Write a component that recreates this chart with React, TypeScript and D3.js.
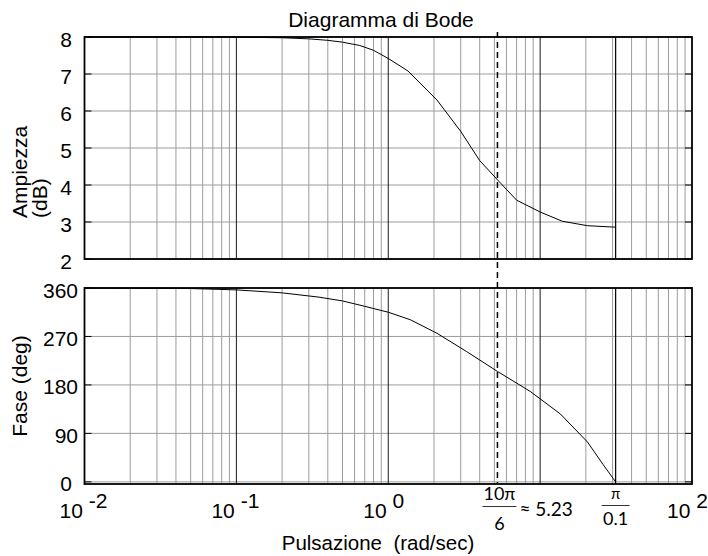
import React, { useEffect, useRef } from "react";
import * as d3 from "d3";

// magnitude curve (rad/sec, dB)
const magFreq = [0.01, 0.05, 0.1, 0.2, 0.3, 0.4, 0.5, 0.65, 0.8, 1, 1.35, 2.09, 3, 4, 5.24, 7, 10, 14, 20.5, 31.4];
const magDb = [8.0, 7.998, 7.995, 7.98, 7.95, 7.91, 7.86, 7.77, 7.64, 7.42, 7.08, 6.3, 5.45, 4.66, 4.14, 3.59, 3.27, 3.02, 2.9, 2.86];

// phase curve (rad/sec, deg)
const phaseFreq = [0.01, 0.05, 0.1, 0.2, 0.35, 0.5, 0.7, 1, 1.4, 2.09, 3.28, 5.24, 8.6, 13.6, 20.5, 26, 31.4];
const phaseDeg = [359.8, 359, 356.5, 351, 343, 336, 326, 315, 301, 276, 242, 205, 168, 126, 74, 32, 0];

const magTicks = [2, 3, 4, 5, 6, 7, 8];
const phaseTicks = [0, 90, 180, 270, 360];
const decadeExps = [-2, -1, 0, 1, 2];
const labelledExps = [-2, -1, 0, 2];

const markerDashed = (10 * Math.PI) / 6; // 5.23
const markerSolid = Math.PI / 0.1; // 31.4

const title = "Diagramma di Bode";
const magLabel = ["Ampiezza", "(dB)"];
const phaseLabel = "Fase (deg)";
const xLabel = "Pulsazione  (rad/sec)";

const FONT = "'Liberation Sans', Arial, sans-serif";
const MATH_FONT = "Lato, 'DejaVu Sans', sans-serif";

export default function App() {
  const svgRef = useRef<SVGSVGElement>(null);

  useEffect(() => {
    const svg = d3.select(svgRef.current);
    svg.selectAll("*").remove();

    const left = 84.5;
    const right = 692;

    const x = d3.scaleLog().domain([0.01, 100]).range([left, right]);
    const yMag = d3.scaleLinear().domain([2, 8]).range([259, 37]);
    const yPh = d3.scaleLinear().domain([-4, 360]).range([484, 288]);

    const minorFreqs: number[] = [];
    decadeExps.slice(0, -1).forEach((e) => {
      for (let k = 2; k <= 9; k++) minorFreqs.push(k * Math.pow(10, e));
    });
    const innerDecades = decadeExps.slice(1, -1).map((e) => Math.pow(10, e));

    const drawPanel = (
      y: d3.ScaleLinear<number, number>,
      ticks: number[],
      fx: number[],
      fy: number[],
      labelX: (v: number) => number
    ) => {
      const [y0, y1] = y.range();
      const g = svg.append("g");

      g.selectAll(".minor")
        .data(minorFreqs)
        .enter()
        .append("line")
        .attr("x1", (d) => x(d))
        .attr("x2", (d) => x(d))
        .attr("y1", y0)
        .attr("y2", y1)
        .attr("stroke", "#9c9c9c")
        .attr("stroke-width", 1);

      g.selectAll(".hgrid")
        .data(ticks)
        .enter()
        .append("line")
        .attr("x1", left)
        .attr("x2", right)
        .attr("y1", (d) => y(d))
        .attr("y2", (d) => y(d))
        .attr("stroke", "#9c9c9c")
        .attr("stroke-width", 1);

      g.selectAll(".decade")
        .data(innerDecades)
        .enter()
        .append("line")
        .attr("x1", (d) => x(d))
        .attr("x2", (d) => x(d))
        .attr("y1", y0)
        .attr("y2", y1)
        .attr("stroke", "#1a1a1a")
        .attr("stroke-width", 1);

      g.append("line")
        .attr("x1", x(markerSolid))
        .attr("x2", x(markerSolid))
        .attr("y1", y0)
        .attr("y2", y1)
        .attr("stroke", "#000")
        .attr("stroke-width", 1.2);

      // inward ticks on both sides
      ticks.forEach((t) => {
        g.append("line")
          .attr("x1", left).attr("x2", left + 7)
          .attr("y1", y(t)).attr("y2", y(t))
          .attr("stroke", "#000");
        g.append("line")
          .attr("x1", right - 7).attr("x2", right)
          .attr("y1", y(t)).attr("y2", y(t))
          .attr("stroke", "#000");
      });

      const line = d3
        .line<number>()
        .x((d) => x(d))
        .y((_, i) => y(fy[i]));

      g.append("path")
        .datum(fx)
        .attr("d", line)
        .attr("fill", "none")
        .attr("stroke", "#000")
        .attr("stroke-width", 1);

      g.append("rect")
        .attr("x", left)
        .attr("y", y1)
        .attr("width", right - left)
        .attr("height", y0 - y1)
        .attr("fill", "none")
        .attr("stroke", "#000")
        .attr("stroke-width", 1.8);

      g.selectAll(".ylab")
        .data(ticks)
        .enter()
        .append("text")
        .attr("x", (d) => labelX(d))
        .attr("y", (d) => y(d) + 9.5)
        .attr("text-anchor", "end")
        .attr("font-family", FONT)
        .attr("font-size", 21)
        .text((d) => d);
    };

    drawPanel(yMag, magTicks, magFreq, magDb, () => 72);
    drawPanel(yPh, phaseTicks, phaseFreq, phaseDeg, (d) => (d === 0 ? 72 : 78));

    // dashed marker through both panels
    svg.append("line")
      .attr("x1", x(markerDashed))
      .attr("x2", x(markerDashed))
      .attr("y1", 32)
      .attr("y2", 483)
      .attr("stroke", "#000")
      .attr("stroke-width", 1.5)
      .attr("stroke-dasharray", "6,4");

    // decade labels 10^n
    labelledExps.forEach((e) => {
      const t = svg.append("text")
        .attr("x", x(Math.pow(10, e)) - 25)
        .attr("y", 518)
        .attr("font-family", FONT)
        .attr("font-size", 21);
      t.append("tspan").text("10");
      t.append("tspan").attr("dx", 6).attr("dy", -10).text(String(e));
    });

    // 10π/6 ≈ 5.23
    const cx1 = x(markerDashed) + 2;
    const frac = svg.append("g").attr("font-family", MATH_FONT).attr("fill", "#000");
    frac.append("text").attr("x", cx1).attr("y", 500).attr("text-anchor", "middle").attr("font-size", 18).text("10π");
    frac.append("line").attr("x1", cx1 - 17).attr("x2", cx1 + 17).attr("y1", 506.5).attr("y2", 506.5).attr("stroke", "#000").attr("stroke-width", 0.8);
    frac.append("text").attr("x", cx1).attr("y", 530).attr("text-anchor", "middle").attr("font-size", 18).text("6");
    frac.append("text").attr("x", cx1 + 20).attr("y", 515.5).attr("font-size", 19).text("≈ 5.23");

    // π/0.1
    const cx2 = x(markerSolid);
    frac.append("text").attr("x", cx2).attr("y", 499).attr("text-anchor", "middle").attr("font-size", 15).text("π");
    frac.append("line").attr("x1", cx2 - 14).attr("x2", cx2 + 14).attr("y1", 505.5).attr("y2", 505.5).attr("stroke", "#000").attr("stroke-width", 0.8);
    frac.append("text").attr("x", cx2).attr("y", 525).attr("text-anchor", "middle").attr("font-size", 18).text("0.1");

    // titles
    svg.append("text")
      .attr("x", 381)
      .attr("y", 27)
      .attr("text-anchor", "middle")
      .attr("font-family", FONT)
      .attr("font-size", 21)
      .text(title);

    svg.append("text")
      .attr("x", 378)
      .attr("y", 550)
      .attr("text-anchor", "middle")
      .attr("font-family", FONT)
      .attr("font-size", 20.5)
      .attr("xml:space", "preserve")
      .style("white-space", "pre")
      .text(xLabel);

    magLabel.forEach((s, i) => {
      svg.append("text")
        .attr("transform", `translate(${27 + i * 20},218) rotate(-90)`)
        .attr("text-anchor", "start")
        .attr("font-family", FONT)
        .attr("font-size", 21)
        .text(s);
    });

    svg.append("text")
      .attr("transform", "translate(27,386) rotate(-90)")
      .attr("text-anchor", "middle")
      .attr("font-family", FONT)
      .attr("font-size", 21)
      .text(phaseLabel);
  }, []);

  return (
    <svg
      ref={svgRef}
      width={708}
      height={556}
      style={{ position: "absolute", left: 0, top: 0, background: "#fff" }}
    />
  );
}
